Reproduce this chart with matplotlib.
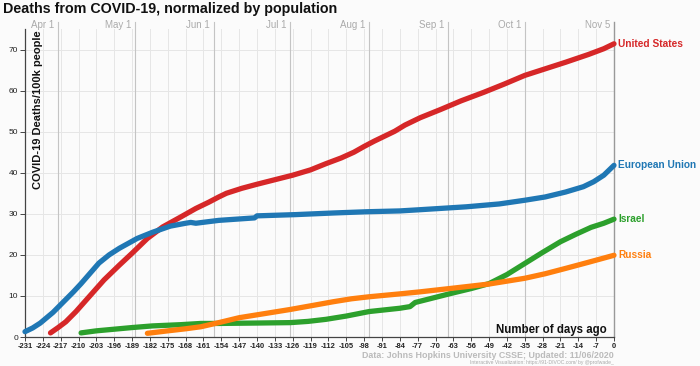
import matplotlib
matplotlib.use("Agg")
import matplotlib.pyplot as plt

plt.rcParams['font.family'] = ['Liberation Sans', 'DejaVu Sans']

# ---- data ----
us_days = [-221, -218, -215, -211, -207, -200, -194, -189, -183, -177, -170, -164, -159, -155,
           -152, -146, -140, -133, -126, -119, -113, -107, -102, -98, -94, -90, -86, -82, -76, -68,
           -60, -51, -43, -35, -27, -19, -10, -4, 0]
us_vals = [1.0, 2.3, 3.7, 6.2, 9.0, 13.9, 17.5, 20.4, 24.0, 26.8, 29.2, 31.3, 32.8, 34.1,
           35.0, 36.2, 37.2, 38.3, 39.4, 40.7, 42.2, 43.6, 45.0, 46.4, 47.7, 48.9, 50.1, 51.6, 53.4,
           55.4, 57.5, 59.6, 61.6, 63.7, 65.3, 66.9, 68.8, 70.2, 71.4]

eu_days = [-231, -228, -225, -220, -216, -212, -209, -202, -198, -194, -187, -181, -174, -168,
           -166, -164, -155, -148, -141, -140, -125, -110, -97, -84, -76, -58, -45, -35, -27,
           -19, -12, -8, -4, 0]
eu_vals = [1.3, 2.2, 3.4, 6.0, 8.5, 11.0, 13.0, 18.0, 20.0, 21.6, 24.0, 25.5, 27.0, 27.7,
           27.9, 27.7, 28.4, 28.7, 29.0, 29.5, 29.8, 30.2, 30.5, 30.7, 31.0, 31.7, 32.4, 33.3, 34.1,
           35.3, 36.6, 37.8, 39.4, 41.8]

il_days = [-209, -203, -196, -189, -181, -170, -162, -155, -140, -127, -120, -113, -105, -96,
           -90, -84, -80, -78, -71, -64, -56, -49, -42, -35, -28, -21, -15, -9, -4, 0]
il_vals = [1.0, 1.5, 1.9, 2.3, 2.7, 3.0, 3.3, 3.3, 3.4, 3.5, 3.8, 4.3, 5.1, 6.2,
           6.6, 7.0, 7.4, 8.4, 9.5, 10.6, 11.8, 13.0, 15.2, 17.9, 20.6, 23.2, 25.0, 26.7, 27.7, 28.7]

ru_days = [-183, -175, -168, -162, -155, -147, -137, -127, -118, -110, -103, -96, -84, -76, -63,
           -49, -42, -35, -27, -19, -10, 0]
ru_vals = [0.9, 1.5, 2.0, 2.5, 3.5, 4.7, 5.7, 6.7, 7.7, 8.6, 9.3, 9.8, 10.5, 11.0, 11.9,
           12.9, 13.6, 14.3, 15.4, 16.7, 18.2, 19.9]

series_names = ["United States", "European Union", "Israel", "Russia"]
series_colors = ["#d62728", "#1f77b4", "#2ca02c", "#ff7f0e"]

month_labels = ["Apr 1", "May 1", "Jun 1", "Jul 1", "Aug 1", "Sep 1", "Oct 1", "Nov 5"]
month_days = [-218, -188, -157, -127, -96, -65, -35, 0]

week_ticks = list(range(-231, 0, 7)) + [0]
y_ticks = [0, 10, 20, 30, 40, 50, 60, 70]

# ---- figure ----
bg = "#fbfbfb"
fig = plt.figure(figsize=(7.0, 3.66), dpi=100, facecolor=bg)
ax = fig.add_axes([25/700, 1-337/366, (614-25)/700, (337-29)/366])
ax.set_facecolor(bg)
ax.set_xlim(-231, 0)
ax.set_ylim(0, 75)

# grid
for d in week_ticks:
    ax.axvline(d, color="#e6e6e6", lw=0.7, zorder=0)
for v in y_ticks[1:]:
    ax.axhline(v, color="#e6e6e6", lw=0.7, zorder=0)
for d, lab in zip(month_days, month_labels):
    col = "#999999" if d == 0 else "#c4c4c4"
    ax.plot([d, d], [0, 76.8], color=col, lw=1.0 if d == 0 else 0.8,
            zorder=0.5, clip_on=False)
    ax.text(d - 1.4, 75.9, lab, ha="right", va="center", fontsize=7,
            color="#aaaaaa", clip_on=False)

# series
all_days = [us_days, eu_days, il_days, ru_days]
all_vals = [us_vals, eu_vals, il_vals, ru_vals]
for dd, vv, name, c in zip(all_days, all_vals, series_names, series_colors):
    ax.plot(dd, vv, color=c, lw=3.8, solid_capstyle="round", solid_joinstyle="round",
            zorder=3, clip_on=False)
    ax.annotate(name, xy=(dd[-1], vv[-1]), xytext=(3, 0), textcoords="offset points",
                ha="left", va="center", fontsize=7.3, fontweight="bold", color=c,
                annotation_clip=False)

# axes styling
for s in ["top", "right"]:
    ax.spines[s].set_visible(False)
ax.spines["left"].set_color("#444444")
ax.spines["bottom"].set_color("#444444")
ax.spines["left"].set_linewidth(0.9)
ax.spines["bottom"].set_linewidth(0.9)

ax.set_xticks(week_ticks)
ax.set_xticklabels([str(d) for d in week_ticks], fontsize=5.4, fontweight="bold", color="#222222")
ax.set_yticks(y_ticks)
ax.set_yticklabels([str(v) for v in y_ticks], fontsize=6.0, color="#222222")
ax.tick_params(axis="x", length=3.0, width=0.7, color="#444444", pad=1.0)
ax.tick_params(axis="y", length=3.5, width=0.7, color="#444444", pad=1.5)

ax.text(0.013, 0.995, "COVID-19 Deaths/100k people", transform=ax.transAxes, rotation=90,
        ha="left", va="top", fontsize=8, fontweight="bold", color="#111111")
ax.text(-3, 1.6, "Number of days ago", ha="right", va="center", fontsize=8.3,
        fontweight="bold", color="#111111")

fig.text(3/700, 1-9/366, "Deaths from COVID-19, normalized by population", ha="left", va="center",
         fontsize=10.3, fontweight="bold", color="#111111")
fig.text(614/700, 1-355.5/366, "Data: Johns Hopkins University CSSE; Updated: 11/06/2020",
         ha="right", va="center", fontsize=6.4, fontweight="bold", color="#bbbbbb")
fig.text(614/700, 1-362.5/366, "Interactive Visualization: https://91-DIVOC.com/ by @profwade_",
         ha="right", va="center", fontsize=3.6, color="#aaaaaa")

fig.savefig("out.png", dpi=100, facecolor=bg)
